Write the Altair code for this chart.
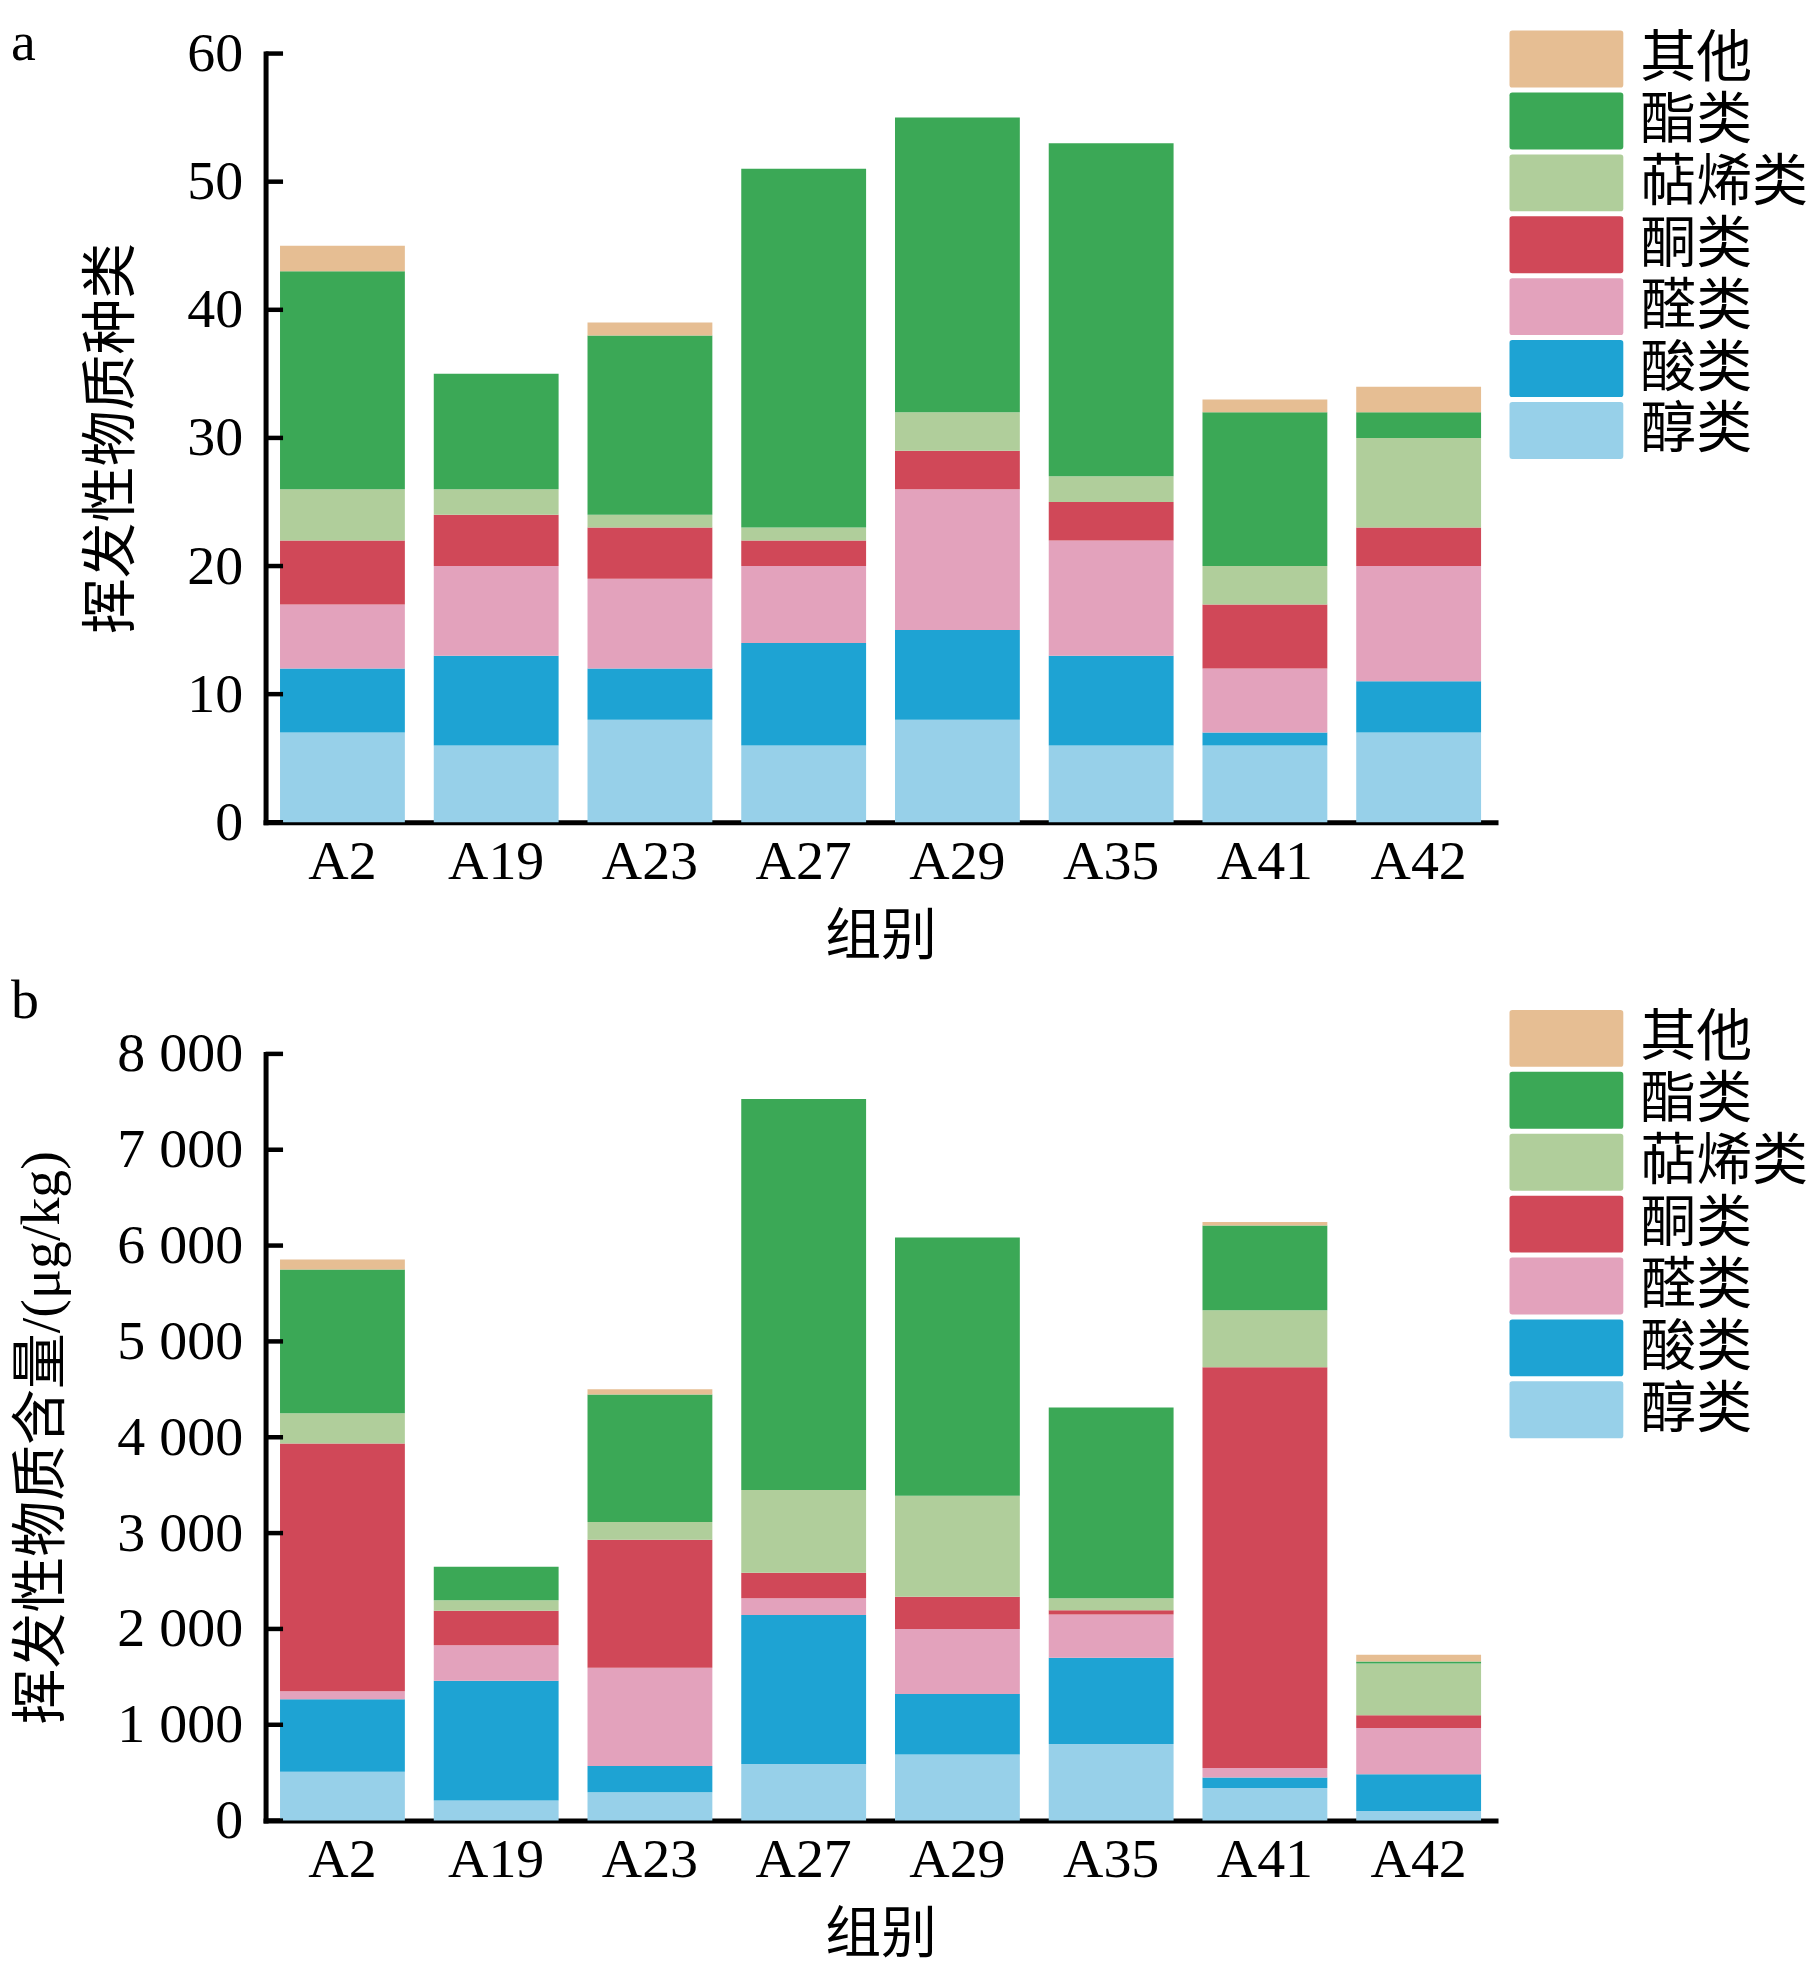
import altair as alt
import pandas as pd

groups = ["A2", "A19", "A23", "A27", "A29", "A35", "A41", "A42"]
# stacking order, bottom to top
classes = ["醇类", "酸类", "醛类", "酮类", "萜烯类", "酯类", "其他"]
legend_order = ["其他", "酯类", "萜烯类", "酮类", "醛类", "酸类", "醇类"]
legend_colors = ["#E6BE93", "#3BA856", "#B0CE9B", "#D04858", "#E3A2BC", "#1EA3D3", "#97D0E9"]

# panel a: number of volatile compounds per class
a_alcohol = [7, 6, 8, 6, 8, 6, 6, 7]
a_acid = [5, 7, 4, 8, 7, 7, 1, 4]
a_aldehyde = [5, 7, 7, 6, 11, 9, 5, 9]
a_ketone = [5, 4, 4, 2, 3, 3, 5, 3]
a_terpene = [4, 2, 1, 1, 3, 2, 3, 7]
a_ester = [17, 9, 14, 28, 23, 26, 12, 2]
a_other = [2, 0, 1, 0, 0, 0, 1, 2]

# panel b: content (ug/kg) per class
b_alcohol = [510, 210, 295, 590, 690, 800, 340, 100]
b_acid = [755, 1250, 275, 1555, 630, 900, 110, 385]
b_aldehyde = [85, 370, 1025, 175, 680, 450, 100, 480]
b_ketone = [2585, 360, 1335, 265, 335, 45, 4180, 135]
b_terpene = [315, 110, 185, 865, 1055, 125, 595, 540]
b_ester = [1500, 350, 1330, 4080, 2695, 1990, 885, 20]
b_other = [105, 0, 55, 0, 0, 0, 35, 70]

a_ticks = [0, 10, 20, 30, 40, 50, 60]
b_ticks = [0, 1000, 2000, 3000, 4000, 5000, 6000, 7000, 8000]

FONT = '"Liberation Serif", "Noto Sans CJK SC", serif'
FS = 56


def make_df(series):
    rows = []
    for ci, (cls, vals) in enumerate(zip(classes, series)):
        for g, v in zip(groups, vals):
            rows.append({"group": g, "class": cls, "value": v, "ord": ci})
    return pd.DataFrame(rows)


legend_path = ("M-0.9,-1H2.9Q3,-1 3,-0.9V0.9Q3,1 2.9,1H-0.9Q-1,1 -1,0.9V-0.9Q-1,-1 -0.9,-1Z")


def panel(series, ymax, ticks, ytitle, letter, legend_y, label_expr, height, letter_y):
    df = make_df(series)
    yscale = alt.Scale(domain=[0, ymax], nice=False, zero=True)
    yaxis = alt.Axis(values=ticks, title=ytitle, ticks=False, grid=False,
                     labelPadding=23, titlePadding=46, labelExpr=label_expr)
    bars = alt.Chart(df).mark_bar(strokeWidth=0).encode(
        x=alt.X("group:N", sort=groups,
                scale=alt.Scale(paddingInner=0.188, paddingOuter=0.094),
                axis=alt.Axis(title="组别", labelAngle=0, ticks=False, labelPadding=12,
                              titlePadding=20)),
        y=alt.Y("value:Q", stack="zero", scale=yscale, axis=yaxis),
        color=alt.Color("class:N",
                        scale=alt.Scale(domain=legend_order, range=legend_colors),
                        legend=alt.Legend(orient="none", legendX=1246, legendY=legend_y,
                                          title=None, symbolType=legend_path,
                                          symbolSize=3249, symbolStrokeWidth=0,
                                          symbolOpacity=1, labelOffset=74,
                                          labelFont=FONT, labelFontSize=FS,
                                          labelColor="black", labelLimit=600,
                                          rowPadding=5, padding=0)),
        order=alt.Order("ord:Q", sort="ascending"),
    )
    tick_df = pd.DataFrame({"value": ticks})
    tick_rules = alt.Chart(tick_df).mark_rule(color="black", strokeWidth=4.5).encode(
        y=alt.Y("value:Q", scale=yscale, axis=yaxis),
        x=alt.value(0),
        x2=alt.value(17.5),
    )
    letter_text = alt.Chart(pd.DataFrame({"t": [letter]})).mark_text(
        align="left", baseline="alphabetic", font=FONT, fontSize=FS, color="black"
    ).encode(text="t:N", x=alt.value(-255), y=alt.value(letter_y))
    return alt.layer(bars, tick_rules, letter_text).properties(width=1232, height=height)


chart_a = panel([a_alcohol, a_acid, a_aldehyde, a_ketone, a_terpene, a_ester, a_other],
                60, a_ticks, "挥发性物质种类", "a", -23, "datum.label", 770, 6)
chart_b = panel([b_alcohol, b_acid, b_aldehyde, b_ketone, b_terpene, b_ester, b_other],
                8000, b_ticks, "挥发性物质含量/(μg/kg)", "b", -44,
                "replace(datum.label, ',', ' ')", 768, -36)

chart = alt.vconcat(chart_a, chart_b, spacing=9).resolve_scale(
    color="independent", y="independent"
).resolve_legend(color="independent").configure_view(stroke=None).configure_axis(
    domainColor="black", domainWidth=5, domainCap="square",
    labelFont=FONT, labelFontSize=FS, labelColor="black",
    titleFont=FONT, titleFontSize=FS, titleFontWeight="normal", titleColor="black",
).properties(padding={"left": 3, "top": 5, "right": 0, "bottom": 0})

chart.save("out.html", embed_options={"renderer": "svg", "actions": False})
